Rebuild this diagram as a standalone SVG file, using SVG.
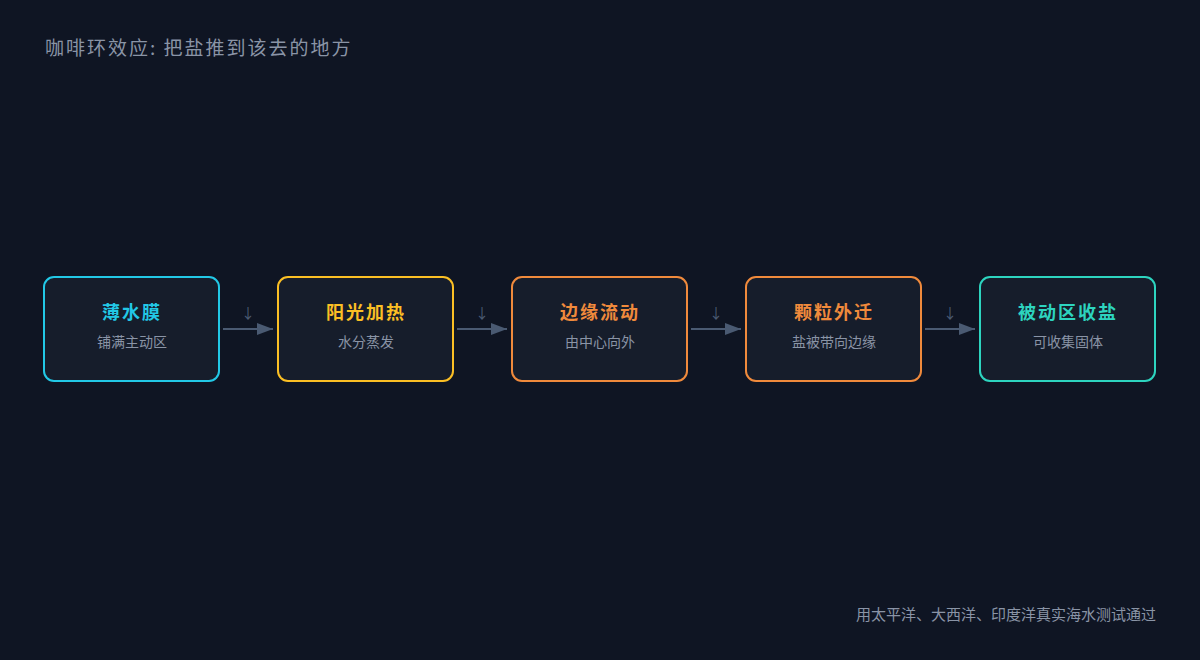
<svg xmlns="http://www.w3.org/2000/svg" width="1200" height="660" viewBox="0 0 1200 660">
<style>
text{font-family:"Noto Sans CJK SC","Noto Sans",sans-serif}
.b{fill:#161d2b;stroke-width:2}
.t{font-size:18px;font-weight:bold;text-anchor:middle;letter-spacing:2px}
.s{font-size:14px;fill:#8a94a6;text-anchor:middle}
.c{stroke:#4a5a72;stroke-width:2;fill:none}
.d{font-size:14px;fill:#4a5a72;text-anchor:middle}
</style>
<defs><marker id="a" markerWidth="10" markerHeight="8" refX="9" refY="4" orient="auto" markerUnits="userSpaceOnUse"><path d="M0,0L16,4L0,8Z" fill="#4a5a72" transform="scale(1)"/></marker>
<marker id="m" viewBox="0 0 16 12" markerWidth="16" markerHeight="12" refX="16" refY="6" orient="auto" markerUnits="userSpaceOnUse"><path d="M0,0L16,6L0,12Z" fill="#4a5a72"/></marker></defs>
<rect width="1200" height="660" fill="#0f1523"/>
<text x="45" y="55" font-size="19" fill="#8a94a6" letter-spacing="2">咖啡环效应: 把盐推到该去的地方</text>
<g id="n1"><rect class="b" x="44" y="277" width="175" height="104" rx="10" stroke="#22c8e6"/><text class="t" x="132" y="319" fill="#22c8e6">薄水膜</text><text class="s" x="132" y="347">铺满主动区</text></g>
<g id="n2"><rect class="b" x="278" y="277" width="175" height="104" rx="10" stroke="#fbbf24"/><text class="t" x="366" y="319" fill="#fbbf24">阳光加热</text><text class="s" x="366" y="347">水分蒸发</text></g>
<g id="n3"><rect class="b" x="512" y="277" width="175" height="104" rx="10" stroke="#f08a3c"/><text class="t" x="600" y="319" fill="#f08a3c">边缘流动</text><text class="s" x="600" y="347">由中心向外</text></g>
<g id="n4"><rect class="b" x="746" y="277" width="175" height="104" rx="10" stroke="#f08a3c"/><text class="t" x="834" y="319" fill="#f08a3c">颗粒外迁</text><text class="s" x="834" y="347">盐被带向边缘</text></g>
<g id="n5"><rect class="b" x="980" y="277" width="175" height="104" rx="10" stroke="#2dd4bf"/><text class="t" x="1068" y="319" fill="#2dd4bf">被动区收盐</text><text class="s" x="1068" y="347">可收集固体</text></g>
<g id="connectors">
<path class="c" d="M223,329H273" marker-end="url(#m)"/><text class="d" x="248" y="318">↓</text>
<path class="c" d="M457,329H507" marker-end="url(#m)"/><text class="d" x="482" y="318">↓</text>
<path class="c" d="M691,329H741" marker-end="url(#m)"/><text class="d" x="716" y="318">↓</text>
<path class="c" d="M925,329H975" marker-end="url(#m)"/><text class="d" x="950" y="318">↓</text>
</g>
<text x="1156" y="620" font-size="15" fill="#8a94a6" text-anchor="end">用太平洋、大西洋、印度洋真实海水测试通过</text>
</svg>
